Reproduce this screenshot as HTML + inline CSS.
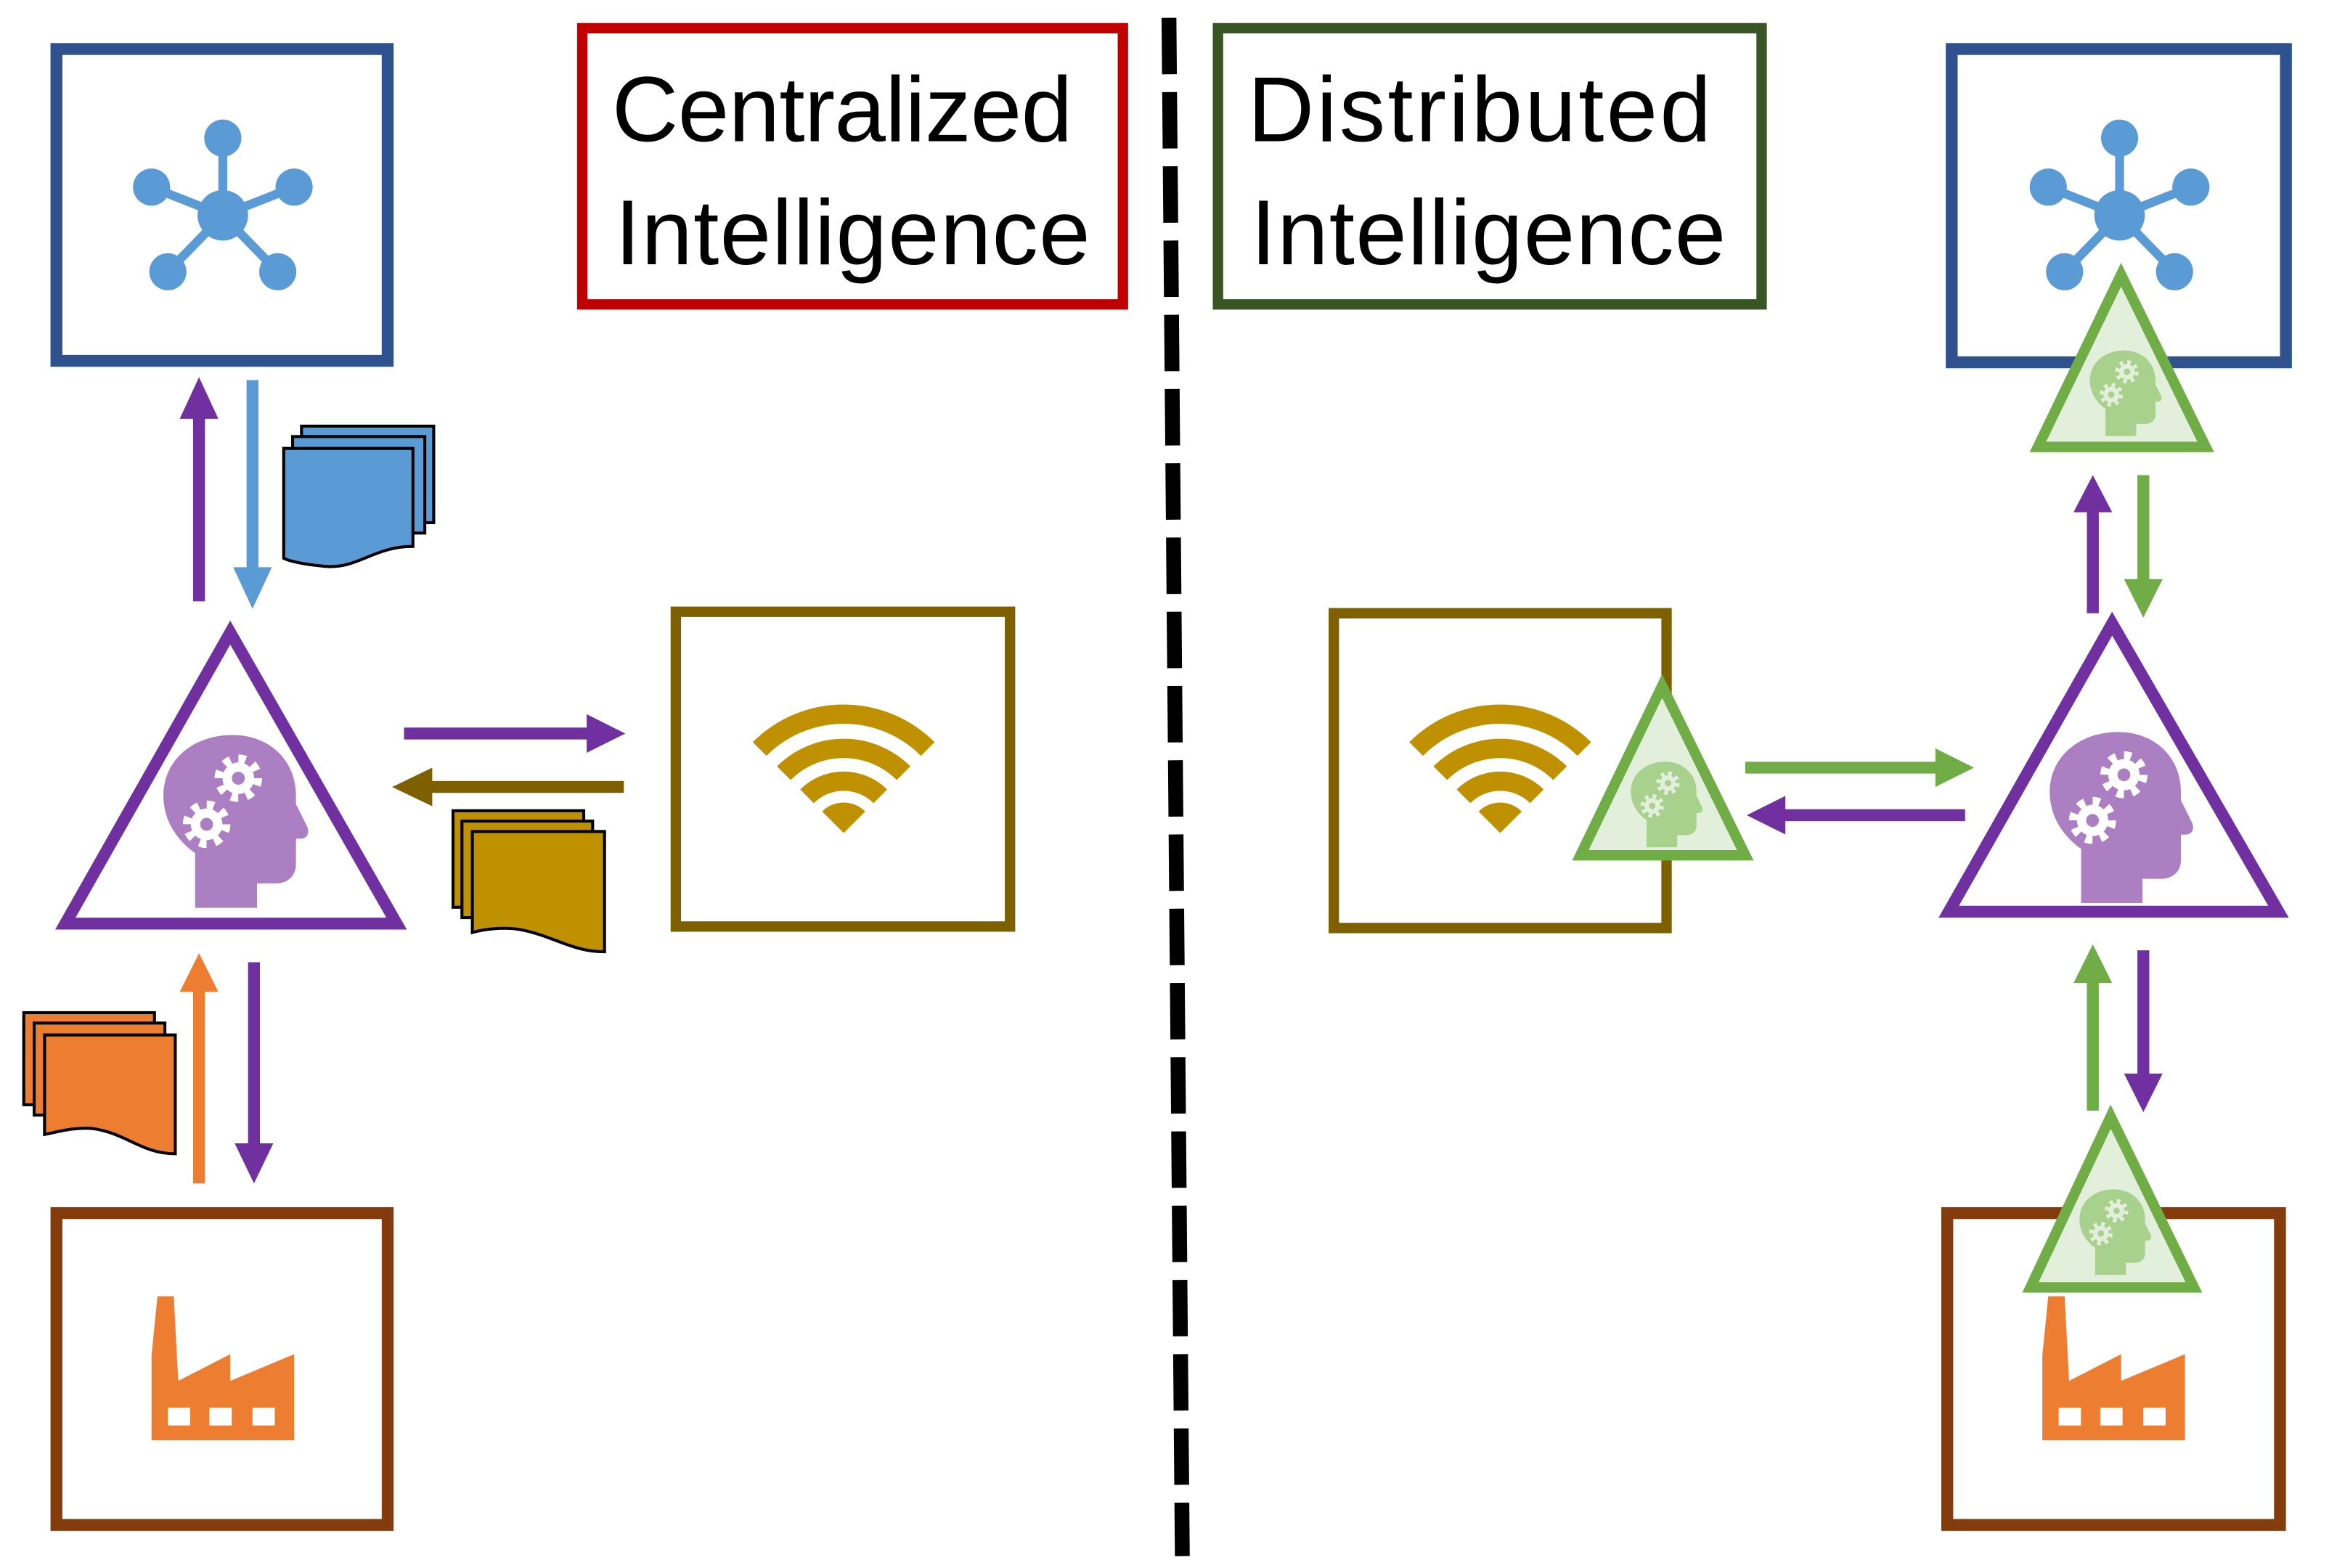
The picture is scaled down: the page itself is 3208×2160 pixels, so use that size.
<!DOCTYPE html>
<html><head><meta charset="utf-8"><style>
html,body{margin:0;padding:0;background:#fff;}
svg{display:block;}
text{font-family:"Liberation Sans",sans-serif;}
</style></head><body>
<svg width="3208" height="2160" viewBox="0 0 1568 1056" preserveAspectRatio="none" xmlns="http://www.w3.org/2000/svg">
<defs>
<g id="headP">
  <path d="M22,120 V82 C8,72 0,58 0,42 C0,18 20,0 48,0 C74,0 92,18 92,42 V48 L100,64 C102,70 98,72 95,72 H92 V90 C92,97 87,103 78,103 H65 V120 Z" fill="#AB7FC1"/>
  <g transform="translate(52,30)"><circle r="11" fill="#fff"/><circle r="13.5" fill="none" stroke="#fff" stroke-width="6" stroke-dasharray="5 5.6"/><circle r="4.5" fill="#AB7FC1"/></g>
  <g transform="translate(30,62)"><circle r="11" fill="#fff"/><circle r="13.5" fill="none" stroke="#fff" stroke-width="6" stroke-dasharray="5 5.6"/><circle r="4.5" fill="#AB7FC1"/></g>
</g>
<g id="headG">
  <path d="M22,120 V82 C8,72 0,58 0,42 C0,18 20,0 48,0 C74,0 92,18 92,42 V48 L100,64 C102,70 98,72 95,72 H92 V90 C92,97 87,103 78,103 H65 V120 Z" fill="#A9D18E"/>
  <g transform="translate(52,30)"><circle r="11" fill="#E2EFDA"/><circle r="13.5" fill="none" stroke="#E2EFDA" stroke-width="6" stroke-dasharray="5 5.6"/><circle r="4.5" fill="#A9D18E"/></g>
  <g transform="translate(30,62)"><circle r="11" fill="#E2EFDA"/><circle r="13.5" fill="none" stroke="#E2EFDA" stroke-width="6" stroke-dasharray="5 5.6"/><circle r="4.5" fill="#A9D18E"/></g>
</g>
<g id="net" fill="#5B9BD5" stroke="#5B9BD5">
  <g stroke-width="6"><line x1="0" y1="0" x2="0" y2="-52"/><line x1="0" y1="0" x2="-48" y2="-19"/><line x1="0" y1="0" x2="48" y2="-19"/><line x1="0" y1="0" x2="-37" y2="38"/><line x1="0" y1="0" x2="37" y2="38"/></g>
  <circle r="17" stroke="none"/><circle cx="0" cy="-52" r="12.5" stroke="none"/><circle cx="-48" cy="-19" r="12.5" stroke="none"/><circle cx="48" cy="-19" r="12.5" stroke="none"/><circle cx="-37" cy="38" r="12.5" stroke="none"/><circle cx="37" cy="38" r="12.5" stroke="none"/>
</g>
<g id="wifi" fill="none" stroke="#BF9000" stroke-width="13">
  <path d="M-56.6,-56.6 A80,80 0 0 1 56.6,-56.6"/>
  <path d="M-40.3,-40.3 A57,57 0 0 1 40.3,-40.3"/>
  <path d="M-24.7,-24.7 A35,35 0 0 1 24.7,-24.7"/>
  <path d="M0,0 L-14.5,-14.5 A20.5,20.5 0 0 1 14.5,-14.5 Z" fill="#BF9000" stroke="none"/>
</g>
<g id="factory">
  <path d="M0,97 V40 L4,0 H15 L18,57 L53,39 V57 L96,39 V97 Z" fill="#ED7D31"/>
  <rect x="11" y="75" width="15" height="12" fill="#fff"/><rect x="39" y="75" width="15" height="12" fill="#fff"/><rect x="68" y="75" width="15" height="12" fill="#fff"/>
</g>
</defs>

<line x1="787" y1="12" x2="796" y2="1048" stroke="#000" stroke-width="10" stroke-dasharray="38 12"/>

<rect x="38" y="33" width="223" height="210" fill="none" stroke="#2F528F" stroke-width="8"/>
<use href="#net" x="150" y="145"/>

<rect x="392" y="19" width="364" height="186" fill="none" stroke="#C00000" stroke-width="7"/>
<text x="412" y="95" font-size="62" fill="#000" textLength="310">Centralized</text>
<text x="414" y="178" font-size="62" fill="#000" textLength="320">Intelligence</text>

<line x1="134" y1="405" x2="134" y2="278" stroke="#7030A0" stroke-width="8"/>
<polygon points="121,282 147,282 134,254" fill="#7030A0"/>
<line x1="170" y1="256" x2="170" y2="385" stroke="#5B9BD5" stroke-width="8"/>
<polygon points="157,382 183,382 170,410" fill="#5B9BD5"/>
<g fill="#5B9BD5" stroke="#000" stroke-width="2">
  <rect x="203" y="287" width="89" height="65"/>
  <rect x="197" y="294" width="89" height="65"/>
  <path d="M191,302 H278 V368 C250,368 240,385 215,381 C205,380 195,378 191,376 Z"/>
</g>

<polygon points="155,426 44,622 267,622" fill="#fff" stroke="#7030A0" stroke-width="8"/>
<use href="#headP" transform="translate(110,495) scale(0.97)"/>

<rect x="455" y="412" width="225" height="212" fill="none" stroke="#7F6000" stroke-width="7"/>
<use href="#wifi" x="568" y="561"/>

<line x1="272" y1="494" x2="398" y2="494" stroke="#7030A0" stroke-width="8"/>
<polygon points="395,481 395,507 421,494" fill="#7030A0"/>
<line x1="420" y1="530" x2="288" y2="530" stroke="#7F6000" stroke-width="8"/>
<polygon points="291,517 291,543 264,530" fill="#7F6000"/>
<g fill="#BF9000" stroke="#000" stroke-width="2">
  <rect x="305" y="546" width="88" height="65"/>
  <rect x="311" y="553" width="88" height="65"/>
  <path d="M318,560 H407 V641 C385,641 372,630 350,626 C338,624 325,626 318,628 Z"/>
</g>

<g fill="#ED7D31" stroke="#000" stroke-width="2">
  <rect x="16" y="682" width="88" height="62"/>
  <rect x="23" y="689" width="88" height="62"/>
  <path d="M30,697 H118 V777 C95,777 85,763 62,760 C50,759 40,762 30,764 Z"/>
</g>
<line x1="134" y1="797" x2="134" y2="665" stroke="#ED7D31" stroke-width="8"/>
<polygon points="121,668 147,668 134,642" fill="#ED7D31"/>
<line x1="171" y1="648" x2="171" y2="772" stroke="#7030A0" stroke-width="8"/>
<polygon points="158,770 184,770 171,797" fill="#7030A0"/>

<rect x="38" y="817" width="223" height="210" fill="none" stroke="#843C0C" stroke-width="8"/>
<use href="#factory" x="102" y="873"/>

<rect x="820" y="19" width="366" height="186" fill="none" stroke="#375623" stroke-width="7"/>
<text x="840" y="95" font-size="62" fill="#000" textLength="312">Distributed</text>
<text x="842" y="178" font-size="62" fill="#000" textLength="320">Intelligence</text>

<rect x="1314" y="33" width="225" height="211" fill="none" stroke="#2F528F" stroke-width="8"/>
<use href="#net" x="1427" y="145"/>
<polygon points="1428,185 1372,301 1485,301" fill="#E2EFDA" stroke="#70AD47" stroke-width="7"/>
<use href="#headG" transform="translate(1407,236) scale(0.48)"/>

<line x1="1409" y1="413" x2="1409" y2="342" stroke="#7030A0" stroke-width="8"/>
<polygon points="1396,345 1422,345 1409,320" fill="#7030A0"/>
<line x1="1443" y1="320" x2="1443" y2="392" stroke="#70AD47" stroke-width="8"/>
<polygon points="1430,390 1456,390 1443,416" fill="#70AD47"/>

<rect x="898" y="413" width="224" height="212" fill="none" stroke="#7F6000" stroke-width="7"/>
<use href="#wifi" x="1010" y="561"/>
<polygon points="1119,462 1064,576 1175,576" fill="#E2EFDA" stroke="#70AD47" stroke-width="7"/>
<use href="#headG" transform="translate(1098,513) scale(0.48)"/>

<line x1="1175" y1="517" x2="1306" y2="517" stroke="#70AD47" stroke-width="8"/>
<polygon points="1303,504 1303,530 1329,517" fill="#70AD47"/>
<line x1="1323" y1="549" x2="1200" y2="549" stroke="#7030A0" stroke-width="8"/>
<polygon points="1202,536 1202,562 1176,549" fill="#7030A0"/>

<polygon points="1422,420 1312,614 1534,614" fill="#fff" stroke="#7030A0" stroke-width="8"/>
<use href="#headP" transform="translate(1380,493) scale(0.96)"/>

<line x1="1409" y1="748" x2="1409" y2="660" stroke="#70AD47" stroke-width="8"/>
<polygon points="1396,662 1422,662 1409,636" fill="#70AD47"/>
<line x1="1443" y1="640" x2="1443" y2="725" stroke="#7030A0" stroke-width="8"/>
<polygon points="1430,723 1456,723 1443,749" fill="#7030A0"/>

<rect x="1311" y="817" width="224" height="210" fill="none" stroke="#843C0C" stroke-width="8"/>
<use href="#factory" x="1375" y="873"/>
<polygon points="1421,752 1367,867 1477,867" fill="#E2EFDA" stroke="#70AD47" stroke-width="7"/>
<use href="#headG" transform="translate(1400,801) scale(0.48)"/>
</svg>
</body></html>
